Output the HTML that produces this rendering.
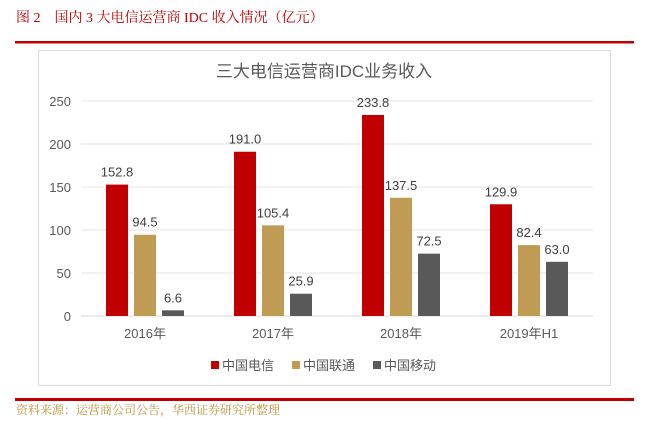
<!DOCTYPE html>
<html><head><meta charset="utf-8"><style>
body{margin:0;background:#fff;width:654px;height:428px;overflow:hidden;font-family:"Liberation Sans","Noto Sans CJK SC",sans-serif;}
</style></head><body>
<svg width="654" height="428" xmlns="http://www.w3.org/2000/svg">
<text x="16" y="22" font-size="14" fill="#c00000" font-family="Liberation Serif, Noto Serif CJK SC, serif">图 2　国内 3 大电信运营商 IDC 收入情况（亿元）</text>
<rect x="15" y="41" width="619" height="2.5" fill="#c00000"/>
<rect x="38.5" y="50.5" width="572" height="335" fill="#fff" stroke="#d9d9d9"/>
<text x="324" y="77" font-size="17" fill="#595959" text-anchor="middle" font-family="Liberation Sans, Noto Sans CJK SC, sans-serif">三大电信运营商IDC业务收入</text>
<g id="plot"></g>
<rect x="15" y="398" width="619" height="3" fill="#c00000"/>
<text x="16" y="414" font-size="12" fill="#b8963e" font-family="Liberation Serif, Noto Serif CJK SC, serif">资料来源：运营商公司公告，华西证券研究所整理</text>
</svg>
<script>
const categories=["2016年","2017年","2018年","2019年H1"];
const telecom=[152.8,191.0,233.8,129.9];
const unicom=[94.5,105.4,137.5,82.4];
const mobile=[6.6,25.9,72.5,63.0];
const seriesNames=["中国电信","中国联通","中国移动"];
const yTicks=[0,50,100,150,200,250];
const NS="http://www.w3.org/2000/svg";
const g=document.getElementById('plot');
const x0=81,x1=593,yb=316,yt=101,ymax=250;
const y=v=>yb-(v/ymax)*(yb-yt);
const step=(x1-x0)/categories.length;
const colors=["#c00000","#bf9b54","#595959"];
function el(t,a){const e=document.createElementNS(NS,t);for(const k in a)e.setAttribute(k,a[k]);g.appendChild(e);return e;}
yTicks.forEach(t=>{
 const l=el('line',{x1:x0,x2:x1,y1:y(t),y2:y(t),stroke:t===0?'#d9d9d9':'#e4e4e4','stroke-width':1});
 
 
 const tx=el('text',{x:71,y:y(t)+5,'font-size':13,fill:'#595959','text-anchor':'end'});
 tx.textContent=t;
 
 
});
const all=[telecom,unicom,mobile];
categories.forEach((c,i)=>{
 const cx=x0+step*(i+0.5);
 all.forEach((s,j)=>{
  const bx=cx-39+j*28;
  const r=el('rect',{x:bx,y:y(s[i]),width:22,height:yb-y(s[i]),fill:colors[j]});
  
  
  const t=el('text',{x:bx+11,y:y(s[i])-8,'font-size':13,fill:'#404040','text-anchor':'middle'});
  t.textContent=s[i].toFixed(1);
  
  
 });
 const t=el('text',{x:cx,y:338,'font-size':13,fill:'#595959','text-anchor':'middle'});
 t.textContent=c;
 
 
});
const lx=[211,292,373];
seriesNames.forEach((n,j)=>{
 const r=el('rect',{x:lx[j],y:361,width:8,height:8,fill:colors[j]});
 
 
 const t=el('text',{x:lx[j]+11,y:370,'font-size':13,fill:'#595959'});
 t.textContent=n;
 
 
});
</script>
</body></html>
